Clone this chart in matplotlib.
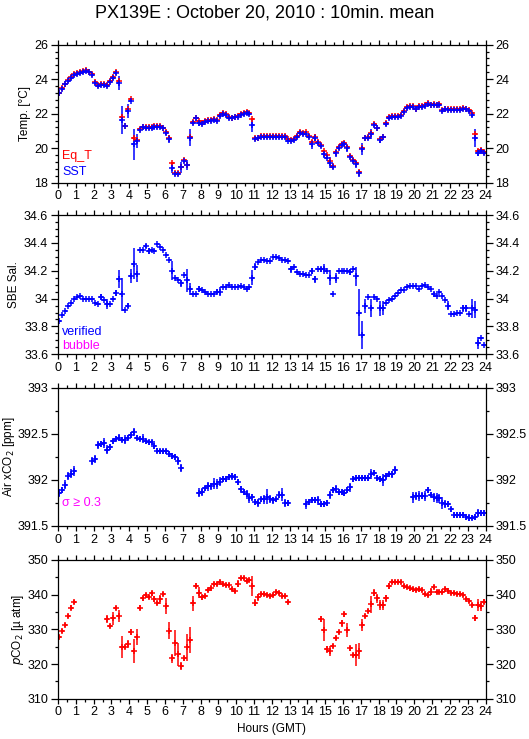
import numpy as np
import matplotlib
matplotlib.use("Agg")
import matplotlib.pyplot as plt
from matplotlib.ticker import MultipleLocator, FuncFormatter

plt.rcParams['font.family'] = ['Liberation Sans', 'DejaVu Sans']

title = "PX139E : October 20, 2010 : 10min. mean"
hour_ticks = list(range(0, 25))

# 10-minute bin index (0..143), hours = (i+0.5)/6
sst = [23.18, 23.43, 23.70, 23.91, 24.09, 24.26, 24.32, 24.38, 24.42, 24.47, 24.40, 24.26,
       23.80, 23.63, 23.68, 23.68, 23.60, 23.85, 24.09, 24.38, 23.80, 21.63, 21.28, 22.15,
       22.73, 20.22, 20.42, 21.07, 21.21, 21.17, 21.19, 21.19, 21.21, 21.25, 21.21, 21.15,
       20.86, 20.51, 18.87, 18.48, 18.48, 18.89, 19.26, 19.02, 20.61, 21.44, 21.73, 21.44,
       21.40, 21.50, 21.59, 21.59, 21.63, 21.59, 21.86, 21.96, 21.92, 21.73, 21.73, 21.79,
       21.83, 21.92, 21.98, 22.04, 22.00, 21.34, 20.51, 20.57, 20.63, 20.67, 20.67, 20.67,
       20.67, 20.67, 20.67, 20.67, 20.67, 20.43, 20.43, 20.47, 20.67, 20.86, 20.82, 20.82,
       20.63, 20.22, 20.61, 20.28, 20.14, 19.66, 19.45, 19.16, 18.93, 19.70, 19.99, 20.16,
       20.24, 19.99, 19.51, 19.28, 19.06, 18.54, 19.95, 20.61, 20.61, 20.82, 21.34, 21.15,
       20.47, 20.63, 21.38, 21.73, 21.83, 21.83, 21.83, 21.88, 22.12, 22.31, 22.37, 22.41,
       22.25, 22.41, 22.41, 22.44, 22.56, 22.48, 22.50, 22.48, 22.50, 22.17, 22.25, 22.21,
       22.21, 22.21, 22.21, 22.21, 22.25, 22.25, 22.15, 21.92, 20.61, 19.74, 19.85, 19.74]
sst_err = [0.03] * 144
for _i, _e in {20: 0.40, 21: 0.80, 23: 0.42, 25: 0.92, 26: 0.40, 36: 0.10, 37: 0.23,
               38: 0.30, 41: 0.30, 43: 0.30, 44: 0.48, 47: 0.15, 65: 0.40, 85: 0.28,
               86: 0.20, 89: 0.22, 91: 0.32, 93: 0.22, 97: 0.20, 100: 0.22, 101: 0.22,
               102: 0.35, 105: 0.30, 108: 0.15, 110: 0.10, 139: 0.14, 140: 0.52,
               141: 0.20}.items():
    sst_err[_i] = _e

eq_t = [23.22, 23.47, 23.74, 23.95, 24.13, 24.30, 24.36, 24.42, 24.46, 24.51, 24.44, 24.30,
        23.85, 23.67, 23.72, 23.72, 23.64, 23.89, 24.13, 24.42, 23.91, 21.83, 21.30, 22.25,
        22.83, 20.57, 20.48, 21.12, 21.25, 21.22, 21.24, 21.24, 21.26, 21.30, 21.26, 21.19,
        20.96, 20.57, 19.12, 18.58, 18.58, 18.93, 19.32, 19.04, 20.63, 21.50, 21.77, 21.57,
        21.44, 21.59, 21.63, 21.63, 21.67, 21.63, 21.90, 22.02, 21.97, 21.79, 21.77, 21.83,
        21.88, 21.96, 22.03, 22.10, 22.05, 21.67, 20.57, 20.62, 20.69, 20.73, 20.72, 20.73,
        20.72, 20.72, 20.72, 20.73, 20.72, 20.51, 20.48, 20.52, 20.72, 20.92, 20.87, 20.96,
        20.68, 20.38, 20.65, 20.38, 20.20, 19.85, 19.60, 19.28, 18.99, 19.76, 20.05, 20.24,
        20.28, 20.09, 19.57, 19.32, 19.12, 18.64, 19.99, 20.61, 20.66, 20.86, 21.38, 21.19,
        20.51, 20.67, 21.44, 21.79, 21.86, 21.87, 21.87, 21.92, 22.16, 22.37, 22.42, 22.47,
        22.29, 22.45, 22.47, 22.50, 22.60, 22.52, 22.54, 22.52, 22.56, 22.21, 22.29, 22.27,
        22.25, 22.25, 22.25, 22.25, 22.31, 22.29, 22.21, 22.06, 20.80, 19.85, 19.92, 19.80]

sal = [33.84, 33.88, 33.91, 33.95, 33.97, 34.00, 34.01, 34.02, 34.00, 34.00, 34.00, 34.00,
       33.97, 33.96, 34.01, 33.99, 33.96, 33.96, 34.00, 34.04, 34.14, 34.03, 33.92, 33.95,
       34.16, 34.25, 34.18, 34.35, 34.35, 34.38, 34.34, 34.35, 34.34, 34.39, 34.37, 34.35,
       34.31, 34.28, 34.20, 34.15, 34.13, 34.11, 34.17, 34.13, 34.07, 34.03, 34.03, 34.07,
       34.06, 34.05, 34.03, 34.03, 34.03, 34.05, 34.05, 34.08, 34.08, 34.10, 34.08, 34.08,
       34.08, 34.09, 34.08, 34.07, 34.08, 34.15, 34.23, 34.26, 34.28, 34.28, 34.27, 34.27,
       34.30, 34.30, 34.29, 34.28, 34.28, 34.27, 34.21, 34.23, 34.19, 34.18, 34.18, 34.17,
       34.17, 34.20, 34.14, 34.21, 34.21, 34.21, 34.20, 34.15, 34.03, 34.15, 34.20, 34.20,
       34.20, 34.20, 34.19, 34.21, 34.16, 33.90, 33.74, 33.95, 34.01, 33.93, 34.01, 34.00,
       33.93, 33.93, 33.97, 33.99, 34.00, 34.02, 34.04, 34.06, 34.06, 34.08, 34.09, 34.09,
       34.09, 34.07, 34.09, 34.10, 34.08, 34.07, 34.03, 34.02, 34.05, 34.02, 33.99, 33.95,
       33.89, 33.89, 33.90, 33.90, 33.93, 33.93, 33.89, 33.93, 33.92, 33.68, 33.72, 33.67]
sal_err = [0.006] * 144
for _i, _e in {14: 0.02, 16: 0.035, 19: 0.02, 20: 0.065, 21: 0.12, 23: 0.02, 24: 0.05,
               25: 0.11, 26: 0.06, 29: 0.015, 30: 0.02, 38: 0.07, 41: 0.025, 43: 0.08,
               44: 0.045, 47: 0.02, 53: 0.02, 54: 0.03, 65: 0.055, 66: 0.025, 78: 0.025,
               85: 0.02, 86: 0.025, 88: 0.02, 89: 0.035, 91: 0.055, 93: 0.035, 98: 0.02,
               100: 0.07, 101: 0.17, 102: 0.10, 103: 0.05, 105: 0.065, 108: 0.055,
               109: 0.05, 126: 0.02, 131: 0.03, 136: 0.025, 137: 0.025, 139: 0.07,
               140: 0.06, 141: 0.045}.items():
    sal_err[_i] = _e

nan = float('nan')
xco2 = [391.86, 391.89, 391.95, 392.04, 392.07, 392.10, nan, nan, nan, nan, nan, 392.21,
        392.23, 392.38, 392.39, 392.40, 392.33, 392.36, 392.42, 392.45, 392.46, 392.44, 392.44, 392.46,
        392.49, 392.52, 392.46, 392.45, 392.45, 392.42, 392.41, 392.41, 392.37, 392.32, 392.31, 392.31,
        392.31, 392.28, 392.26, 392.25, 392.21, 392.13, nan, nan, nan, nan, nan, 391.86,
        391.87, 391.91, 391.93, 391.93, 391.96, 391.96, 391.98, 392.01, 392.01, 392.03, 392.04, 392.03,
        391.98, 391.90, 391.87, 391.85, 391.80, 391.81, 391.76, 391.75, 391.79, 391.79, 391.82, 391.79,
        391.78, 391.79, 391.84, 391.84, 391.75, 391.75, nan, nan, nan, nan, nan, 391.74,
        391.76, 391.78, 391.78, 391.78, 391.74, 391.74, 391.75, 391.84, 391.89, 391.90, 391.87, 391.87,
        391.86, 391.89, 391.92, 392.01, 392.02, 392.02, 392.02, 392.02, 392.02, 392.07, 392.08, 392.02,
        392.01, 392.00, 392.04, 392.06, 392.06, 392.11, nan, nan, nan, nan, nan, 391.81,
        391.83, 391.83, 391.83, 391.83, 391.89, 391.84, 391.81, 391.80, 391.80, 391.75, 391.74, 391.74,
        391.68, 391.62, 391.62, 391.62, 391.62, 391.60, 391.59, 391.59, 391.60, 391.64, 391.64, 391.64]
xco2_err = [0.045, 0.03, 0.05, 0.045, 0.045, 0.055, 0, 0, 0, 0, 0, 0.045,
            0.045, 0.045, 0.03, 0.055, 0.05, 0.03, 0.03, 0.03, 0.04, 0.03, 0.045, 0.03,
            0.03, 0.04, 0.03, 0.03, 0.045, 0.03, 0.03, 0.03, 0.03, 0.03, 0.03, 0.03,
            0.03, 0.03, 0.03, 0.03, 0.045, 0.045, 0, 0, 0, 0, 0, 0.05,
            0.04, 0.03, 0.05, 0.04, 0.06, 0.055, 0.05, 0.03, 0.03, 0.03, 0.04, 0.03,
            0.03, 0.04, 0.03, 0.04, 0.045, 0.035, 0.03, 0.04, 0.03, 0.05, 0.085, 0.045,
            0.04, 0.03, 0.04, 0.07, 0.04, 0.03, 0, 0, 0, 0, 0, 0.05,
            0.035, 0.03, 0.03, 0.05, 0.035, 0.03, 0.035, 0.045, 0.03, 0.045, 0.03, 0.035,
            0.03, 0.03, 0.045, 0.03, 0.03, 0.03, 0.03, 0.03, 0.03, 0.055, 0.03, 0.03,
            0.03, 0.06, 0.035, 0.03, 0.04, 0.04, 0, 0, 0, 0, 0, 0.06,
            0.045, 0.055, 0.04, 0.055, 0.035, 0.03, 0.045, 0.055, 0.05, 0.065, 0.04, 0.03,
            0.03, 0.035, 0.03, 0.03, 0.03, 0.03, 0.04, 0.03, 0.03, 0.04, 0.03, 0.03]

pco2 = [327.7, 329.5, 331.25, 333.8, 336.3, 338.0, nan, nan, nan, nan, nan, nan,
        nan, nan, nan, nan, 332.9, 331.0, 333.2, 336.25, 333.8, 325.0, 324.8, 325.8,
        329.3, 323.75, 327.7, 336.3, 338.9, 339.9, 339.4, 340.4, 338.75, 337.7, 338.65, 340.2,
        336.7, 329.6, 321.6, 326.0, 322.8, 319.4, 321.6, 324.8, 326.9, 337.5, 342.6, 340.6,
        339.2, 339.6, 341.3, 341.8, 343.0, 343.0, 343.75, 343.1, 342.8, 342.8, 341.6, 341.1,
        343.1, 344.7, 344.7, 344.0, 344.2, 342.5, 337.7, 339.2, 340.2, 340.1, 339.9, 339.7,
        339.9, 340.7, 340.4, 339.6, 339.6, 338.0, nan, nan, nan, nan, nan, nan,
        nan, nan, nan, nan, 333.0, 329.8, 324.2, 323.8, 325.2, 327.4, 329.3, 331.7,
        334.3, 329.8, 324.5, 322.6, 322.6, 323.75, 331.25, 333.8, 335.3, 337.2, 340.6, 338.9,
        337.0, 337.0, 338.9, 342.5, 343.6, 343.6, 343.75, 343.75, 342.5, 342.1, 341.8, 341.5,
        341.3, 341.5, 341.3, 340.1, 339.9, 340.9, 342.1, 340.7, 340.7, 340.7, 341.5, 341.2,
        340.4, 340.4, 340.2, 340.2, 339.9, 338.65, 338.2, 337.0, 333.4, 337.0, 336.7, 338.0]
pco2_err = [0.6] * 144
for _i, _e in {16: 1.1, 18: 1.9, 20: 1.7, 21: 3.2, 23: 1.1, 24: 0.8, 25: 3.4, 26: 2.3,
               27: 0.75, 28: 0.6, 31: 0.7, 32: 0.75, 34: 1.2, 36: 2.3, 37: 2.4, 38: 1.4,
               39: 3.7, 40: 3.3, 41: 1.2, 42: 0.7, 43: 3.8, 44: 3.7, 45: 2.2, 46: 0.75,
               47: 1.6, 60: 1.0, 65: 2.8, 66: 1.1, 67: 1.0, 88: 0.9, 89: 3.2, 90: 0.9,
               91: 1.4, 95: 1.0, 97: 1.9, 98: 0.8, 100: 3.1, 101: 2.4, 102: 1.7, 105: 2.5,
               106: 0.9, 107: 1.4, 108: 1.4, 109: 1.4, 110: 1.0, 111: 1.0, 125: 1.1,
               140: 0.85, 141: 1.8, 142: 1.5, 143: 0.8}.items():
    pco2_err[_i] = _e

hours = (np.arange(144) + 0.5) / 6.0

RED = '#ff0000'
BLUE = '#0000ff'
MAG = '#ff00ff'

W, H = 529.0, 739.0
fig = plt.figure(figsize=(5.29, 7.39), dpi=100)
fig.text(0.5, 0.982, title, ha='center', va='center', fontsize=13)

L, R = 58 / W, 485.5 / W
boxes = [(44.7, 182.7), (215, 354.3), (388, 526), (560, 698.7)]
label_x = [25, 14, 9, 18.5]

def make_ax(top, bot):
    return fig.add_axes([L, 1 - bot / H, R - L, (bot - top) / H])

fmt = FuncFormatter(lambda v, p: ('%g' % round(v, 3)))

def style(ax, k, ylo, yhi, major, minor, ylabel):
    ax.set_xlim(0, 24)
    ax.set_ylim(ylo, yhi)
    ax.set_xticks(hour_ticks)
    ax.set_xticklabels([str(h) for h in hour_ticks])
    ax.xaxis.set_minor_locator(MultipleLocator(0.5))
    ax.yaxis.set_major_locator(MultipleLocator(major))
    ax.yaxis.set_minor_locator(MultipleLocator(minor))
    ax.yaxis.set_major_formatter(fmt)
    ax.tick_params(axis='both', which='both', direction='out', top=True, right=True,
                   labelright=True, labelsize=9, width=0.9, pad=2)
    ax.tick_params(axis='y', which='major', length=5)
    ax.tick_params(axis='y', which='minor', length=2.5)
    ax.tick_params(axis='x', which='major', length=3.5)
    ax.tick_params(axis='x', which='minor', length=2)
    for s in ax.spines.values():
        s.set_linewidth(0.9)
    top, bot = boxes[k]
    fig.text(label_x[k] / W, 1 - (top + bot) / 2 / H, ylabel, rotation=90,
             ha='center', va='center', fontsize=8.5)

ekw = dict(fmt='+', ms=5, mew=1.1, elinewidth=1.1, capsize=0)
xw = 0.09

ax1 = make_ax(*boxes[0])
ax1.errorbar(hours, eq_t, xerr=xw, yerr=0.03, color=RED, ecolor=RED, **ekw)
ax1.errorbar(hours, sst, xerr=xw, yerr=sst_err, color=BLUE, ecolor=BLUE, **ekw)
style(ax1, 0, 18, 26, 2, 0.4, 'Temp. [°C]')
ax1.text(0.01, 0.19, 'Eq_T', color=RED, transform=ax1.transAxes, fontsize=9, va='center')
ax1.text(0.01, 0.075, 'SST', color=BLUE, transform=ax1.transAxes, fontsize=9, va='center')

ax2 = make_ax(*boxes[1])
ax2.errorbar(hours, sal, xerr=xw, yerr=sal_err, color=BLUE, ecolor=BLUE, **ekw)
style(ax2, 1, 33.6, 34.6, 0.2, 0.05, 'SBE Sal.')
ax2.text(0.01, 0.16, 'verified', color=BLUE, transform=ax2.transAxes, fontsize=9, va='center')
ax2.text(0.01, 0.06, 'bubble', color=MAG, transform=ax2.transAxes, fontsize=9, va='center')

ax3 = make_ax(*boxes[2])
ax3.errorbar(hours, xco2, xerr=xw, yerr=xco2_err, color=BLUE, ecolor=BLUE, **ekw)
style(ax3, 2, 391.5, 393, 0.5, 0.25, 'Air xCO$_2$ [ppm]')
ax3.text(0.01, 0.17, 'σ ≥ 0.3', color=MAG, transform=ax3.transAxes, fontsize=9, va='center')

ax4 = make_ax(*boxes[3])
ax4.errorbar(hours, pco2, xerr=xw, yerr=pco2_err, color=RED, ecolor=RED, **ekw)
style(ax4, 3, 310, 350, 10, 5, '$\\it{p}$CO$_2$ [µ atm]')
ax4.set_xlabel('Hours (GMT)', fontsize=8.5, labelpad=3)

fig.savefig('out.png', dpi=100)
